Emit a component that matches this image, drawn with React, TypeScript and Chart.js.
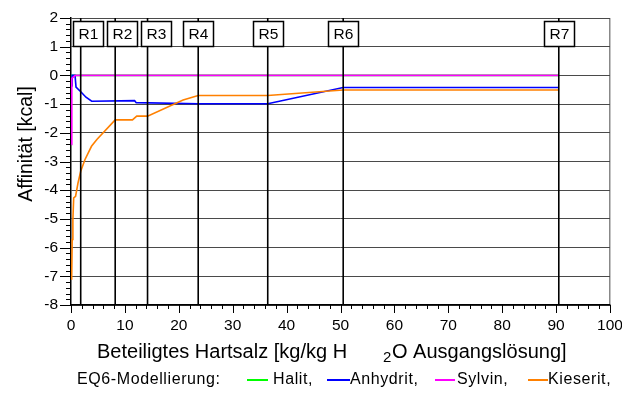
import { useEffect, useRef } from 'react';
import { Chart, registerables } from 'chart.js';

Chart.register(...registerables);

const FONT = '"Liberation Sans", Arial, Helvetica, sans-serif';

// ---- data ----
const halitX = [0, 90.5];
const halitY = [0, 0];

const anhydritX = [0.1, 0.2, 0.2, 0.75, 0.93, 1.86, 2.78, 3.84, 11.8, 12.1, 23.6, 36.5, 50.5, 90.5];
const anhydritY = [-0.4, -0.35, 0, 0, -0.41, -0.58, -0.76, -0.9, -0.88, -0.95, -0.99, -0.99, -0.42, -0.42];

const sylvinX = [0.12, 0.15, 0.8, 90.5];
const sylvinY = [-2.41, -0.1, 0, 0];

const kieseritX = [0.12, 0.22, 0.35, 0.5, 0.85, 1.3, 1.8, 2.6, 3.8, 4.8, 8.2, 11.4, 12.2, 14.2, 20.8, 23.6, 36.5, 50.5, 90.5];
const kieseritY = [-7.12, -5.72, -5.03, -4.27, -4.21, -3.75, -3.34, -2.93, -2.47, -2.23, -1.55, -1.55, -1.42, -1.42, -0.86, -0.70, -0.70, -0.51, -0.51];

const reactionX = [1.8, 8.2, 14.2, 23.6, 36.5, 50.5, 90.5];
const reactionLabels = ['R1', 'R2', 'R3', 'R4', 'R5', 'R6', 'R7'];

const seriesNames = ['Halit,', 'Anhydrit,', 'Sylvin,', 'Kieserit,'];
const seriesColors = ['#00FF00', '#0000FF', '#FF00FF', '#FF8000'];

const legendPrefix = 'EQ6-Modellierung:';
const yTitle = 'Affinität [kcal]';
const xTitleA = 'Beteiligtes Hartsalz [kg/kg H';
const xTitleSub = '2';
const xTitleB = 'O Ausgangslösung]';

const xMin = 0, xMax = 100, xStep = 10, xMinor = 2;
const yMin = -8, yMax = 2, yStep = 1, yMinor = 0.2;

const pts = (xs: number[], ys: number[]) => xs.map((x, i) => ({ x, y: ys[i] }));

const decorPlugin = {
  id: 'decor',
  afterDatasetsDraw(chart: any) {
    const { ctx, chartArea, scales } = chart;
    const xs = scales.x;
    ctx.save();
    // reaction lines
    ctx.strokeStyle = '#000';
    ctx.lineWidth = 1.6;
    reactionX.forEach((v) => {
      const px = xs.getPixelForValue(v);
      ctx.beginPath();
      ctx.moveTo(px, chartArea.top);
      ctx.lineTo(px, chartArea.bottom);
      ctx.stroke();
    });
    // boxes
    const bw = 30, bh = 25, top = chartArea.top + 3;
    let prevRight = -Infinity;
    ctx.font = `15.5px ${FONT}`;
    ctx.textAlign = 'center';
    ctx.textBaseline = 'middle';
    reactionX.forEach((v, i) => {
      const px = xs.getPixelForValue(v);
      let left = Math.max(px - bw / 2, prevRight + 3, chartArea.left + 2);
      left = Math.round(left) + 0.5;
      prevRight = left + bw;
      ctx.fillStyle = '#fff';
      ctx.fillRect(left, top, bw, bh);
      ctx.strokeStyle = '#000';
      ctx.lineWidth = 1.5;
      ctx.strokeRect(left, top + 0.5, bw, bh);
      ctx.fillStyle = '#000';
      ctx.fillText(reactionLabels[i], left + bw / 2, top + bh / 2 + 1.5);
    });
    ctx.restore();
  },
  afterDraw(chart: any) {
    const { ctx, chartArea, scales } = chart;
    const xs = scales.x, ys = scales.y;
    ctx.save();
    ctx.strokeStyle = '#000';
    ctx.lineWidth = 1;
    // y ticks
    const ny = Math.round((yMax - yMin) / yMinor);
    for (let i = 0; i <= ny; i++) {
      const v = yMin + i * yMinor;
      const major = Math.abs(v - Math.round(v)) < 1e-6;
      const py = Math.round(ys.getPixelForValue(v)) + 0.5;
      const len = major ? 11 : 5;
      ctx.beginPath();
      ctx.moveTo(chartArea.left - len, py);
      ctx.lineTo(chartArea.left, py);
      ctx.stroke();
    }
    // x ticks
    const nx = Math.round((xMax - xMin) / xMinor);
    for (let i = 0; i <= nx; i++) {
      const v = xMin + i * xMinor;
      const major = v % xStep === 0;
      const px = Math.round(xs.getPixelForValue(v)) + 0.5;
      const len = major ? 8 : 4;
      ctx.beginPath();
      ctx.moveTo(px, chartArea.bottom);
      ctx.lineTo(px, chartArea.bottom + len);
      ctx.stroke();
    }
    // axis titles
    ctx.fillStyle = '#000';
    ctx.textBaseline = 'middle';
    ctx.textAlign = 'left';
    ctx.font = `20px ${FONT}`;
    ctx.fillText(xTitleA, 97, 352);
    ctx.fillText(xTitleB, 392, 352);
    ctx.font = `15px ${FONT}`;
    ctx.fillText(xTitleSub, 383, 358);
    ctx.save();
    ctx.translate(27, 144);
    ctx.rotate(-Math.PI / 2);
    ctx.textAlign = 'center';
    ctx.font = `19.5px ${FONT}`;
    ctx.fillText(yTitle, 0, 0);
    ctx.restore();
    // legend
    ctx.font = `16px ${FONT}`;
    try { (ctx as any).letterSpacing = '0.6px'; } catch (e) {}
    ctx.textAlign = 'left';
    ctx.fillText(legendPrefix, 77, 380);
    const lineStarts = [247, 327, 435, 528];
    const lineEnds = [268, 350, 455, 548];
    const textStarts = [273, 350, 457, 548];
    seriesNames.forEach((n, i) => {
      ctx.strokeStyle = seriesColors[i];
      ctx.lineWidth = 2;
      ctx.beginPath();
      ctx.moveTo(lineStarts[i], 380);
      ctx.lineTo(lineEnds[i], 380);
      ctx.stroke();
      ctx.fillStyle = '#000';
      ctx.fillText(n, textStarts[i], 380);
    });
    ctx.restore();
  },
};

export default function App() {
  const ref = useRef<HTMLCanvasElement | null>(null);
  useEffect(() => {
    if (!ref.current) return;
    const chart = new Chart(ref.current, {
      type: 'line',
      data: {
        datasets: [
          { label: seriesNames[2], data: pts(sylvinX, sylvinY), borderColor: seriesColors[2], order: 0 },
          { label: seriesNames[3], data: pts(kieseritX, kieseritY), borderColor: seriesColors[3], order: 1 },
          { label: seriesNames[1], data: pts(anhydritX, anhydritY), borderColor: seriesColors[1], order: 2 },
          { label: seriesNames[0], data: pts(halitX, halitY), borderColor: seriesColors[0], order: 3 },
        ].map((d) => ({ ...d, borderWidth: 1.6, pointRadius: 0, tension: 0, fill: false })),
      },
      options: {
        animation: false,
        responsive: true,
        maintainAspectRatio: false,
        layout: { padding: { left: 0, top: 18, right: 12, bottom: 0 } },
        plugins: { legend: { display: false }, tooltip: { enabled: false } },
        scales: {
          x: {
            type: 'linear',
            min: xMin,
            max: xMax,
            ticks: { stepSize: xStep, padding: 11, color: '#000', font: { family: FONT, size: 15.5 }, maxRotation: 0 },
            grid: {
              drawTicks: false,
              color: (c: any) => (c.tick && c.tick.value === xMax ? '#888' : 'rgba(0,0,0,0)'),
              lineWidth: 1.5,
            },
            border: { color: '#000', width: 1.5 },
            afterFit: (s: any) => { s.height = 89; s.paddingLeft = 0; s.paddingRight = 0; },
          },
          y: {
            type: 'linear',
            min: yMin,
            max: yMax,
            ticks: { stepSize: yStep, padding: 13, color: '#000', font: { family: FONT, size: 15.5 } },
            grid: { drawTicks: false, color: '#4a4a4a', lineWidth: 1 },
            border: { color: '#000', width: 1.5 },
            afterFit: (s: any) => { s.width = 71; s.paddingTop = 0; s.paddingBottom = 0; },
          },
        },
      },
      plugins: [decorPlugin],
    } as any);
    return () => chart.destroy();
  }, []);
  return (
    <div style={{ position: 'absolute', left: 0, top: 0, width: 622, height: 394, background: '#fff' }}>
      <canvas ref={ref} />
    </div>
  );
}
